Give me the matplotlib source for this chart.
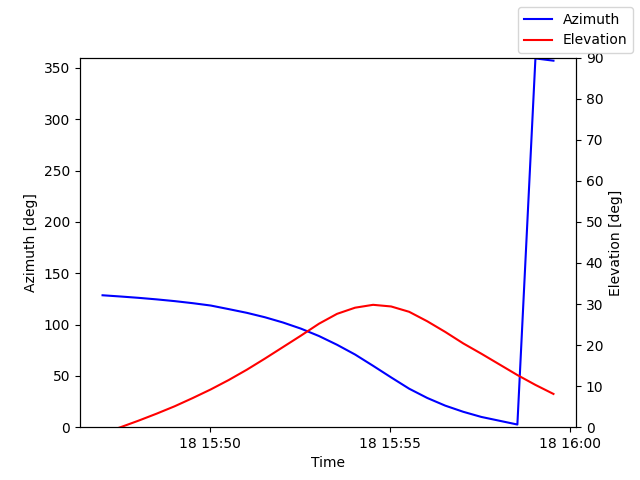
import numpy as np
import pandas as pd
import matplotlib
matplotlib.use("Agg")
import matplotlib.pyplot as plt

# pass samples, every 30 s
times = pd.date_range("2024-01-18 15:47:02", periods=26, freq="30s")

azimuth = [128.5, 127.3, 126.0, 124.5, 122.8, 120.8, 118.5, 115.0, 111.4, 107.1,
           102.0, 96.0, 88.8, 80.3, 70.8, 59.8, 48.5, 37.5, 28.5, 21.0,
           15.0, 10.0, 6.3, 2.6, 359.2, 357.0]

elevation = [-1.5, 0.0, 1.6, 3.3, 5.1, 7.1, 9.2, 11.5, 14.0, 16.7,
             19.5, 22.3, 25.2, 27.6, 29.1, 29.8, 29.4, 28.1, 25.8, 23.2,
             20.4, 17.9, 15.3, 12.7, 10.3, 8.1]

fig, ax1 = plt.subplots(figsize=(6.4, 4.8), dpi=100)
ax1.plot(times, azimuth, color="b", label="Azimuth")
ax1.set_ylim(0, 360)
ax1.set_xlabel("Time")
ax1.set_ylabel("Azimuth [deg]")

ax2 = ax1.twinx()
ax2.plot(times, elevation, color="r", label="Elevation")
ax2.set_ylim(0, 90)
ax2.set_ylabel("Elevation [deg]")

fig.legend(loc="upper right")
fig.savefig("out.png", dpi=100)
